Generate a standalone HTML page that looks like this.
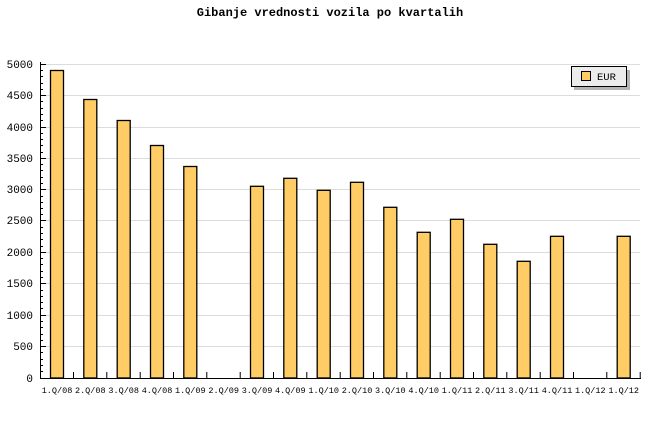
<!DOCTYPE html>
<html><head><meta charset="utf-8"><style>
html,body{margin:0;padding:0;background:#fff;}
svg{display:block;}
text{font-family:"Liberation Mono",monospace;}
</style></head><body>
<svg width="660" height="440" xmlns="http://www.w3.org/2000/svg">
<rect width="660" height="440" fill="#fff"/>
<text x="330" y="16" text-anchor="middle" font-size="12" font-weight="bold" fill="#000">Gibanje vrednosti vozila po kvartalih</text>
<g stroke="#dcdcdc" stroke-width="1">
<line x1="41" x2="640" y1="64.5" y2="64.5"/>
<line x1="41" x2="640" y1="95.5" y2="95.5"/>
<line x1="41" x2="640" y1="127.5" y2="127.5"/>
<line x1="41" x2="640" y1="158.5" y2="158.5"/>
<line x1="41" x2="640" y1="189.5" y2="189.5"/>
<line x1="41" x2="640" y1="220.5" y2="220.5"/>
<line x1="41" x2="640" y1="252.5" y2="252.5"/>
<line x1="41" x2="640" y1="283.5" y2="283.5"/>
<line x1="41" x2="640" y1="315.5" y2="315.5"/>
<line x1="41" x2="640" y1="346.5" y2="346.5"/>
</g>
<g font-size="11" text-anchor="end" fill="#000">
<text x="33" y="68">5000</text><text x="33" y="99">4500</text><text x="33" y="131">4000</text>
<text x="33" y="162">3500</text><text x="33" y="193">3000</text><text x="33" y="224">2500</text>
<text x="33" y="256">2000</text><text x="33" y="287">1500</text><text x="33" y="319">1000</text>
<text x="33" y="350">500</text><text x="33" y="382">0</text>
</g>
<g fill="#ffcc66" stroke="#000" stroke-width="1.3">
<rect x="50.5" y="70.5" width="13" height="307.5"/>
<rect x="83.8" y="99.5" width="13" height="278.5"/>
<rect x="117.2" y="120.5" width="13" height="257.5"/>
<rect x="150.5" y="145.5" width="13" height="232.5"/>
<rect x="183.8" y="166.5" width="13" height="211.5"/>
<rect x="250.5" y="186.3" width="13" height="191.7"/>
<rect x="283.8" y="178.3" width="13" height="199.7"/>
<rect x="317.2" y="190.3" width="13" height="187.7"/>
<rect x="350.5" y="182.3" width="13" height="195.7"/>
<rect x="383.8" y="207.3" width="13" height="170.7"/>
<rect x="417.2" y="232.3" width="13" height="145.7"/>
<rect x="450.5" y="219.3" width="13" height="158.7"/>
<rect x="483.8" y="244.3" width="13" height="133.7"/>
<rect x="517.2" y="261.3" width="13" height="116.7"/>
<rect x="550.5" y="236.3" width="13" height="141.7"/>
<rect x="617.2" y="236.3" width="13" height="141.7"/>
</g>
<g stroke="#000" stroke-width="1">
<line x1="40.5" y1="62" x2="40.5" y2="378.5"/>
<line x1="40" y1="378.5" x2="641" y2="378.5"/>
</g>
<path id="t" stroke="#000" stroke-width="1" d="
M40 64.5h6M40 70.5h3M40 76.5h3M40 83.5h3M40 89.5h3M40 95.5h6
M40 101.5h3M40 108.5h3M40 114.5h3M40 120.5h3M40 127.5h6
M40 133.5h3M40 139.5h3M40 145.5h3M40 152.5h3M40 158.5h6
M40 164.5h3M40 170.5h3M40 177.5h3M40 183.5h3M40 189.5h6
M40 196.5h3M40 202.5h3M40 208.5h3M40 214.5h3M40 220.5h6
M40 227.5h3M40 233.5h3M40 239.5h3M40 246.5h3M40 252.5h6
M40 258.5h3M40 264.5h3M40 271.5h3M40 277.5h3M40 283.5h6
M40 290.5h3M40 296.5h3M40 302.5h3M40 308.5h3M40 315.5h6
M40 321.5h3M40 327.5h3M40 334.5h3M40 340.5h3M40 346.5h6
M40 352.5h3M40 359.5h3M40 365.5h3M40 371.5h3
M73.5 372v6M106.8 372v6M140.2 372v6M173.5 372v6M206.8 372v6M240.2 372v6
M273.5 372v6M306.8 372v6M340.2 372v6M373.5 372v6M406.8 372v6M440.2 372v6
M473.5 372v6M506.8 372v6M540.2 372v6M573.5 372v6M606.8 372v6M640.2 372v6"/>
<g font-size="8.5" text-anchor="middle" fill="#000">
<text x="57" y="393">1.Q/08</text><text x="90.3" y="393">2.Q/08</text><text x="123.7" y="393">3.Q/08</text>
<text x="157" y="393">4.Q/08</text><text x="190.3" y="393">1.Q/09</text><text x="223.7" y="393">2.Q/09</text>
<text x="257" y="393">3.Q/09</text><text x="290.3" y="393">4.Q/09</text><text x="323.7" y="393">1.Q/10</text>
<text x="357" y="393">2.Q/10</text><text x="390.3" y="393">3.Q/10</text><text x="423.7" y="393">4.Q/10</text>
<text x="457" y="393">1.Q/11</text><text x="490.3" y="393">2.Q/11</text><text x="523.7" y="393">3.Q/11</text>
<text x="557" y="393">4.Q/11</text><text x="590.3" y="393">1.Q/12</text><text x="623.7" y="393">1.Q/12</text>
</g>
<rect x="574" y="70" width="56" height="20" fill="#b4b4b4"/>
<rect x="571.5" y="66.5" width="55" height="20" fill="#ececec" stroke="#000" stroke-width="1"/>
<rect x="581.5" y="71.5" width="9" height="9" fill="#ffcc66" stroke="#000" stroke-width="1"/>
<text x="597" y="80" font-size="10.5" fill="#000">EUR</text>
</svg>
</body></html>
